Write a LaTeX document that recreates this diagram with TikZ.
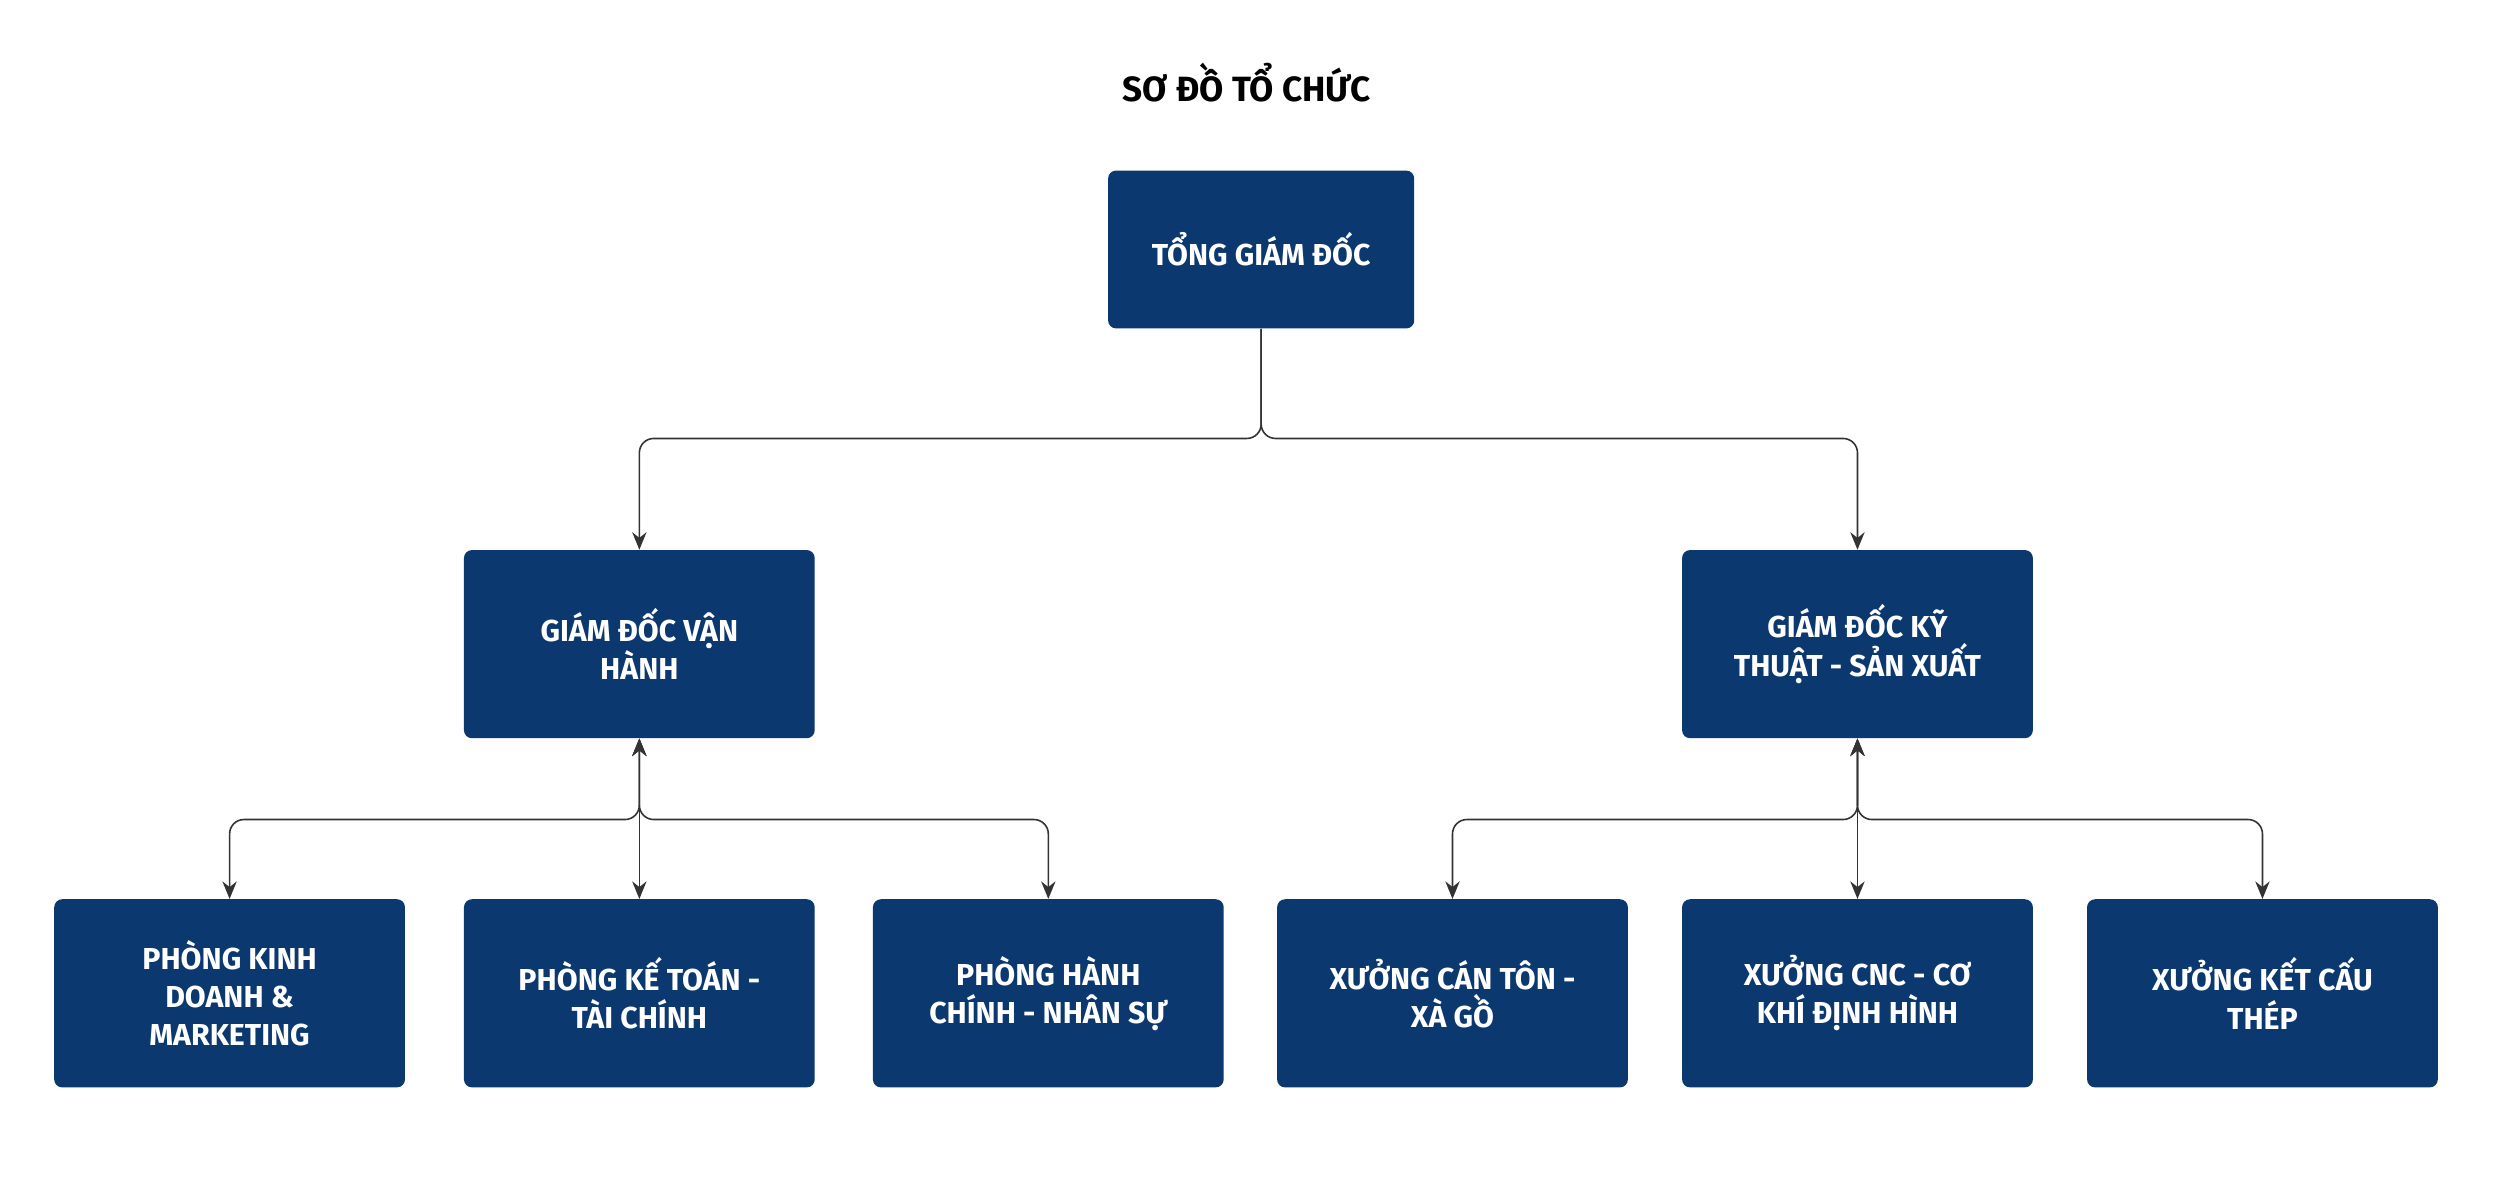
\documentclass[tikz,border=0pt]{standalone}
\usepackage{fontspec}
\setmainfont{Fira Sans}
\usetikzlibrary{arrows.meta}
\definecolor{navy}{HTML}{0C3870}
\definecolor{ln}{HTML}{333333}
\begin{document}
\begin{tikzpicture}[x=1pt,y=-1pt,
  box/.style={fill=navy,rounded corners=5pt,minimum width=220pt,minimum height=118pt,
    text=white,font=\fontsize{19}{24}\selectfont\bfseries,align=center,inner sep=0pt},
  conn/.style={draw=ln,line width=1pt,rounded corners=9pt},
  tip/.style={-{Stealth[length=11pt,width=9pt]}}]
\useasboundingbox[fill=white] (0,0) rectangle (1568,739);
\node[font=\fontsize{22}{26}\selectfont\bfseries] (title) at (782,52) {SƠ ĐỒ TỔ CHỨC};
\node[box,minimum width=192pt,minimum height=99pt] (top) at (791,156.5) {TỔNG GIÁM ĐỐC};
\node[box] (vh) at (401,404) {GIÁM ĐỐC VẬN\\HÀNH};
\node[box] (kt) at (1165,404) {GIÁM ĐỐC KỸ\\THUẬT - SẢN XUẤT};
\node[box] (b1) at (144,623) {PHÒNG KINH\\DOANH \&\\MARKETING};
\node[box] (b2) at (401,623) {PHÒNG KẾ TOÁN -\\TÀI CHÍNH};
\node[box] (b3) at (657.5,623) {PHÒNG HÀNH\\CHÍNH - NHÂN SỰ};
\node[box] (b4) at (911,623) {XƯỞNG CÁN TÔN -\\XÀ GỒ};
\node[box] (b5) at (1165,623) {XƯỞNG CNC - CƠ\\KHÍ ĐỊNH HÌNH};
\node[box] (b6) at (1419,623) {XƯỞNG KẾT CẤU\\THÉP};
\coordinate (j0) at (791,275);
\draw[conn,tip] (top.south) -- (j0) -| (vh.north);
\draw[conn,tip] (top.south) -- (j0) -| (kt.north);
\foreach \p/\c in {vh/b1,vh/b2,vh/b3,kt/b4,kt/b5,kt/b6}{
  \coordinate (m) at (\p.south |- 0,514);
  \draw[conn,{Stealth[length=11pt,width=9pt]}-{Stealth[length=11pt,width=9pt]}] (\p.south) -- (m) -| (\c.north);
}
\end{tikzpicture}
\end{document}
